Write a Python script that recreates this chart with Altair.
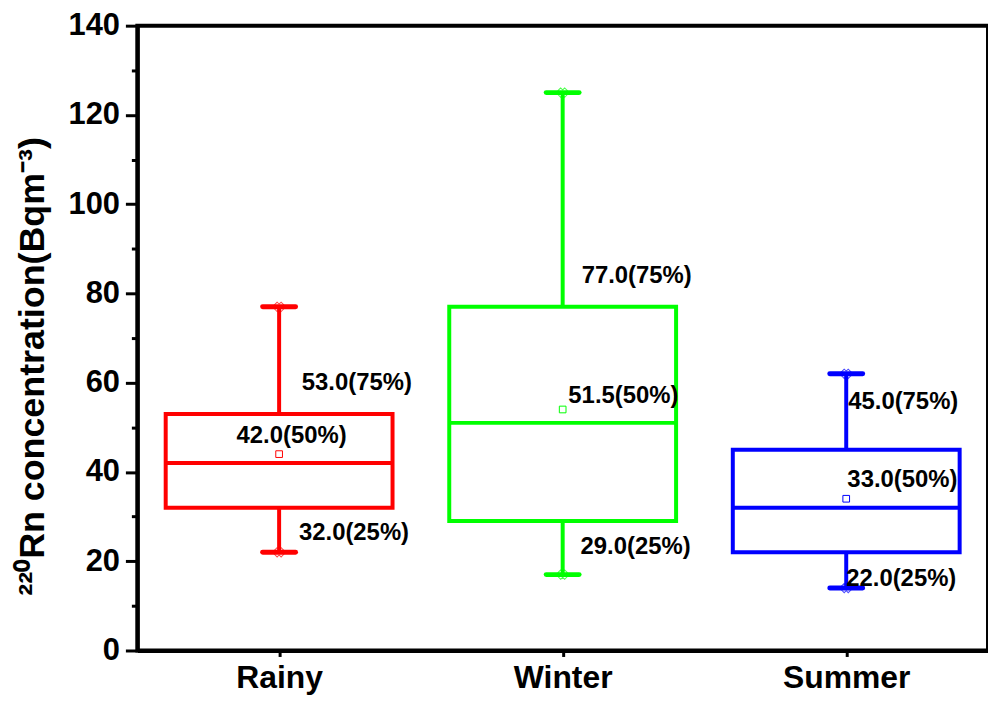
import altair as alt
import pandas as pd

seasons = ["Rainy", "Winter", "Summer"]
positions = [1, 2, 3]
colors = ["#ff0000", "#00ff00", "#0000ff"]
whisker_low = [22, 17, 14]
q1 = [32, 29, 22]
median = [42, 51, 32]
q3 = [53, 77, 45]
whisker_high = [77, 125, 62]
mean = [44, 54, 34]

# annotation texts and where they sit (data units)
label_season = ["Rainy", "Rainy", "Rainy", "Winter", "Winter", "Winter", "Summer", "Summer", "Summer"]
label_text = ["53.0(75%)", "42.0(50%)", "32.0(25%)",
              "77.0(75%)", "51.5(50%)", "29.0(25%)",
              "45.0(75%)", "33.0(50%)", "22.0(25%)"]
label_y = [59.9, 48.0, 26.4, 84.0, 57.0, 23.1, 55.7, 38.3, 16.1]
label_dx = [0.08, -0.15, 0.07, 0.067, 0.02, 0.063, 0.007, 0.004, 0.0]

df = pd.DataFrame({
    "season": seasons, "pos": positions, "low": whisker_low, "q1": q1,
    "median": median, "q3": q3, "high": whisker_high, "mean": mean,
})
pos_map = dict(zip(seasons, positions))
lab = pd.DataFrame({
    "season": label_season, "text": label_text, "y": label_y,
    "x": [pos_map[s] + d for s, d in zip(label_season, label_dx)],
})

FONT = "Liberation Sans"
xscale = alt.Scale(domain=[0.5, 3.5], nice=False, zero=False)
yscale = alt.Scale(domain=[0, 140], nice=False)
cscale = alt.Scale(domain=seasons, range=colors)

label_expr = "datum.value == 1 ? '%s' : datum.value == 2 ? '%s' : datum.value == 3 ? '%s' : ''" % tuple(seasons)

xaxis = alt.Axis(values=positions, labelExpr=label_expr, title=None, grid=False,
                 domainColor="black", domainWidth=4, tickColor="black", tickWidth=3, tickSize=6,
                 labelFont=FONT, labelFontSize=32, labelFontWeight="bold", labelColor="black",
                 labelPadding=6)
yaxis = alt.Axis(values=[0, 20, 40, 60, 80, 100, 120, 140], grid=False,
                 title="²²⁰Rn concentration(Bqm⁻³)",
                 titleFont=FONT, titleFontSize=36, titleFontWeight="bold", titleColor="black",
                 titleX=-94, titleY=342, titleAngle=-90, titleAlign="center", titleBaseline="alphabetic",
                 domainColor="black", domainWidth=4, tickColor="black", tickWidth=3, tickSize=12,
                 labelFont=FONT, labelFontSize=31, labelFontWeight="bold", labelColor="black",
                 labelPadding=6)
yaxis_minor = alt.Axis(values=[10, 30, 50, 70, 90, 110, 130], grid=False, title=None, labels=False,
                       domain=False, tickColor="black", tickWidth=3, tickSize=6, orient="left")

base = alt.Chart(df).transform_calculate(x0="datum.pos - 0.4", x1="datum.pos + 0.4",
                                        c0="datum.pos - 0.058", c1="datum.pos + 0.058")
col = alt.Color("season:N", scale=cscale, legend=None)


def X(field):
    return alt.X(field, scale=xscale, axis=xaxis)


box = base.mark_rect(fillOpacity=0, strokeWidth=4).encode(
    x=X("x0:Q"), x2="x1:Q",
    y=alt.Y("q1:Q", scale=yscale, axis=yaxis), y2="q3:Q",
    stroke=alt.Stroke("season:N", scale=cscale, legend=None))
med = base.mark_rule(strokeWidth=4).encode(
    x=X("x0:Q"), x2="x1:Q",
    y=alt.Y("median:Q", scale=yscale, axis=yaxis_minor), color=col)
wh_hi = base.mark_rule(strokeWidth=4).encode(
    x=X("pos:Q"), y=alt.Y("q3:Q", scale=yscale, axis=None), y2="high:Q", color=col)
wh_lo = base.mark_rule(strokeWidth=4).encode(
    x=X("pos:Q"), y=alt.Y("low:Q", scale=yscale, axis=None), y2="q1:Q", color=col)
cap_hi = base.mark_rule(strokeWidth=5, strokeCap="round").encode(
    x=X("c0:Q"), x2="c1:Q", y=alt.Y("high:Q", scale=yscale, axis=None), color=col)
cap_lo = base.mark_rule(strokeWidth=5, strokeCap="round").encode(
    x=X("c0:Q"), x2="c1:Q", y=alt.Y("low:Q", scale=yscale, axis=None), color=col)
star_hi = base.mark_point(shape="cross", angle=45, size=90, strokeWidth=1, filled=False).encode(
    x=X("pos:Q"), y=alt.Y("high:Q", scale=yscale, axis=None), color=col)
star_lo = base.mark_point(shape="cross", angle=45, size=90, strokeWidth=1, filled=False).encode(
    x=X("pos:Q"), y=alt.Y("low:Q", scale=yscale, axis=None), color=col)
mean_pt = base.mark_point(shape="square", size=45, strokeWidth=1, filled=False, opacity=1).encode(
    x=X("pos:Q"), y=alt.Y("mean:Q", scale=yscale, axis=None), color=col)
texts = alt.Chart(lab).mark_text(align="left", baseline="middle", font=FONT, fontSize=24,
                                 fontWeight="bold", color="black").encode(
    x=X("x:Q"), y=alt.Y("y:Q", scale=yscale, axis=None), text="text:N")

chart = alt.layer(box, med, wh_hi, wh_lo, cap_hi, cap_lo, star_hi, star_lo, mean_pt, texts).resolve_axis(
    y="independent").properties(
    width=855, height=628, autosize=alt.AutoSizeParams(type="none"),
    padding={"left": 130, "top": 16, "right": 0, "bottom": 48},
    background="white",
).configure_view(stroke="black", strokeWidth=4)

chart.save("out.html", embed_options={"renderer": "svg", "actions": False})
